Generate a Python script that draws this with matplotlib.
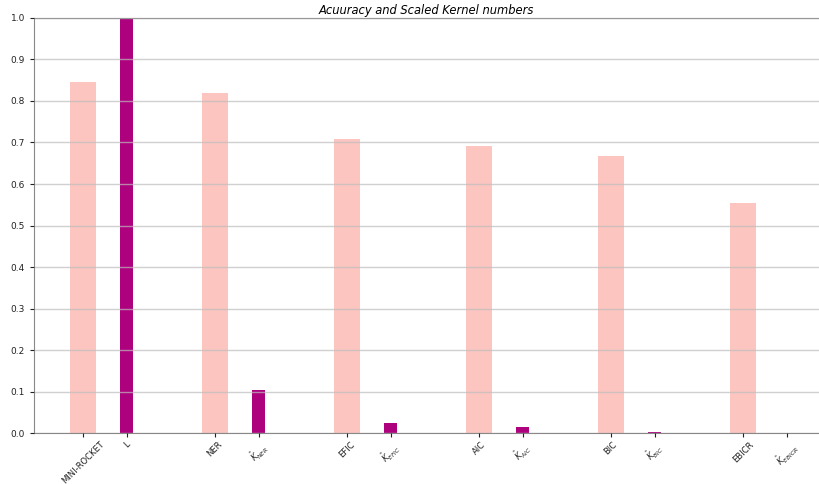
import matplotlib.pyplot as plt

# dados
metodos = ["MINI-ROCKET", "NER", "EFIC", "AIC", "BIC", "EBICR"]
acuracia = [0.845, 0.820, 0.708, 0.692, 0.668, 0.555]
kernels = [1.0, 0.105, 0.025, 0.014, 0.004, 0.001]
rotulos_k = ["L", r"$\hat{K}_{NER}$", r"$\hat{K}_{EFIC}$", r"$\hat{K}_{AIC}$",
             r"$\hat{K}_{BIC}$", r"$\hat{K}_{EBICR}$"]

pos_acc = [3 * i for i in range(len(metodos))]
pos_k = [3 * i + 1 for i in range(len(metodos))]

fig = plt.figure(figsize=(8.19, 4.84), dpi=100)
ax = fig.add_axes([0.0415, 0.105, 0.9585, 0.858])

ax.bar(pos_acc, acuracia, width=0.6, color="#fcc5c0", zorder=1)
ax.bar(pos_k, kernels, width=0.3, color="#ae017e", zorder=1)

ax.set_ylim(0, 1.0)
ax.set_xlim(-1.11, 16.73)
ax.set_yticks([i / 10 for i in range(11)])
ax.yaxis.grid(True, color="#bdbdbd", linewidth=1, alpha=0.7, zorder=2)
ax.set_axisbelow(False)

ticks = []
labels = []
for a, k, m, r in zip(pos_acc, pos_k, metodos, rotulos_k):
    ticks += [a, k]
    labels += [m, r]
ax.set_xticks(ticks)
ax.set_xticklabels(labels, rotation=45, fontsize=6)
ax.tick_params(axis="y", labelsize=6.5)
ax.tick_params(colors="#222222", length=3)
ax.tick_params(axis="x", pad=2)

for s in ["left", "bottom"]:
    ax.spines[s].set_color("#888888")
ax.spines["right"].set_visible(False)
ax.spines["top"].set_color("#444444")

ax.set_title("Acuuracy and Scaled Kernel numbers", fontsize=8.3, style="italic", pad=3)

fig.savefig("out.png", dpi=100)
